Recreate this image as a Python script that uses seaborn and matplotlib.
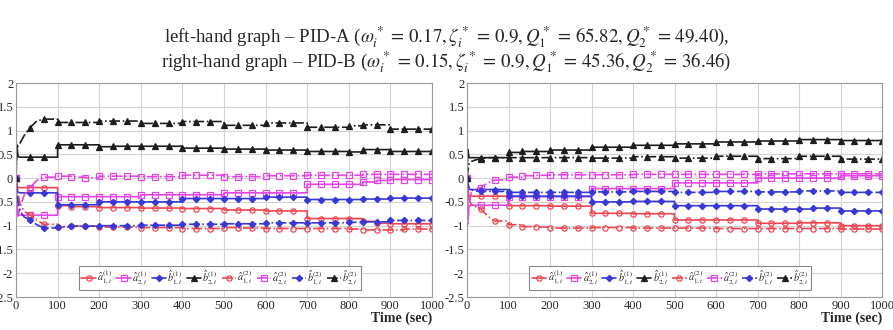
import matplotlib
matplotlib.use("Agg")
import matplotlib.pyplot as plt
import pandas as pd
import seaborn as sns

# time points: a short start-up transient, then one sample every 33.3 s
T = [0, 2, 5, 10, 20, 33.3, 50, 66.7,
     100, 133.3, 166.7, 200, 233.3, 266.7, 300, 333.3, 366.7,
     400, 433.3, 466.7, 500, 533.3, 566.7, 600, 633.3, 666.7,
     700, 733.3, 766.7, 800, 833.3, 866.7, 900, 933.3, 966.7, 1000]
N_EARLY = 8          # first points are joined directly, later ones are held (steps)
MARK_TIMES = [0, 33.3, 66.7]  # early points that carry a marker

# left-hand graph, PID-A
A_a1_1 = [0, -0.15, -0.2, -0.2, -0.2, -0.2, -0.2, -0.2,
          -0.58, -0.6, -0.6, -0.62, -0.62, -0.62, -0.63, -0.63, -0.63,
          -0.64, -0.64, -0.64, -0.67, -0.67, -0.67, -0.69, -0.69, -0.69,
          -0.85, -0.85, -0.85, -0.85, -0.91, -0.95, -0.96, -0.96, -0.96, -0.96]
A_a2_1 = [0, -0.5, -0.78, -0.78, -0.78, -0.78, -0.78, -0.78,
          -0.39, -0.39, -0.39, -0.39, -0.39, -0.39, -0.35, -0.35, -0.35,
          -0.35, -0.35, -0.35, -0.31, -0.31, -0.31, -0.31, -0.31, -0.31,
          -0.13, -0.13, -0.13, -0.13, -0.08, -0.05, -0.03, -0.03, -0.03, -0.03]
A_b1_1 = [0, -0.2, -0.3, -0.31, -0.31, -0.31, -0.31, -0.31,
          -0.56, -0.56, -0.56, -0.5, -0.5, -0.5, -0.5, -0.5, -0.5,
          -0.43, -0.43, -0.43, -0.43, -0.43, -0.43, -0.4, -0.4, -0.4,
          -0.45, -0.45, -0.45, -0.45, -0.44, -0.44, -0.42, -0.42, -0.42, -0.42]
A_b2_1 = [0, 0.7, 0.45, 0.44, 0.44, 0.44, 0.44, 0.44,
          0.7, 0.7, 0.7, 0.66, 0.67, 0.67, 0.67, 0.67, 0.67,
          0.63, 0.63, 0.63, 0.61, 0.61, 0.61, 0.59, 0.59, 0.59,
          0.56, 0.56, 0.56, 0.55, 0.6, 0.6, 0.56, 0.56, 0.56, 0.56]
A_a1_2 = [0, -0.2, -0.35, -0.55, -0.7, -0.77, -0.88, -0.97,
          -1.03, -1.01, -1.01, -1.03, -1.03, -1.03, -1.04, -1.04, -1.04,
          -1.06, -1.06, -1.06, -1.04, -1.05, -1.05, -1.06, -1.06, -1.06,
          -1.06, -1.06, -1.06, -1.07, -1.09, -1.09, -1.09, -1.07, -1.07, -1.07]
A_a2_2 = [0, -0.5, -0.8, -0.6, -0.35, -0.2, -0.05, 0.02,
          0.04, 0.02, 0.01, 0.04, 0.04, 0.04, 0.03, 0.03, 0.03,
          0.06, 0.06, 0.06, 0.03, 0.03, 0.03, 0.05, 0.05, 0.05,
          0.06, 0.06, 0.06, 0.06, 0.08, 0.08, 0.08, 0.08, 0.08, 0.08]
A_b1_2 = [0, -0.3, -0.5, -0.7, -0.82, -0.88, -0.98, -1.05,
          -1.02, -1.01, -1.01, -1.0, -1.0, -1.0, -0.99, -0.99, -0.99,
          -0.97, -0.97, -0.97, -0.96, -0.96, -0.96, -0.94, -0.94, -0.94,
          -0.94, -0.94, -0.94, -0.93, -0.92, -0.92, -0.89, -0.89, -0.89, -0.89]
A_b2_2 = [0, 0.6, 0.68, 0.74, 0.9, 1.06, 1.2, 1.24,
          1.17, 1.17, 1.17, 1.2, 1.2, 1.2, 1.15, 1.15, 1.15,
          1.19, 1.19, 1.19, 1.11, 1.11, 1.11, 1.16, 1.16, 1.16,
          1.07, 1.07, 1.07, 1.1, 1.12, 1.12, 1.03, 1.03, 1.03, 1.03]

# right-hand graph, PID-B
B_a1_1 = [0, -0.25, -0.38, -0.38, -0.38, -0.38, -0.38, -0.38,
          -0.58, -0.58, -0.58, -0.59, -0.59, -0.59, -0.74, -0.74, -0.74,
          -0.75, -0.75, -0.75, -0.88, -0.88, -0.88, -0.88, -0.88, -0.88,
          -0.95, -0.95, -0.95, -0.94, -0.94, -0.94, -1.0, -1.0, -1.0, -1.0]
B_a2_1 = [0, -0.7, -0.6, -0.57, -0.57, -0.57, -0.57, -0.57,
          -0.39, -0.39, -0.39, -0.39, -0.39, -0.39, -0.22, -0.22, -0.22,
          -0.22, -0.22, -0.22, -0.1, -0.1, -0.1, -0.1, -0.1, -0.1,
          0.0, 0.0, 0.0, 0.0, 0.0, 0.0, 0.05, 0.05, 0.05, 0.05]
B_b1_1 = [0, -0.15, -0.24, -0.24, -0.24, -0.24, -0.24, -0.24,
          -0.38, -0.38, -0.38, -0.38, -0.38, -0.38, -0.5, -0.5, -0.5,
          -0.49, -0.49, -0.49, -0.58, -0.58, -0.58, -0.58, -0.58, -0.58,
          -0.65, -0.65, -0.65, -0.65, -0.63, -0.63, -0.69, -0.69, -0.69, -0.69]
B_b2_1 = [0, 0.6, 0.43, 0.43, 0.43, 0.43, 0.43, 0.43,
          0.54, 0.56, 0.56, 0.59, 0.59, 0.59, 0.65, 0.65, 0.65,
          0.69, 0.69, 0.69, 0.72, 0.72, 0.72, 0.76, 0.76, 0.76,
          0.78, 0.78, 0.78, 0.81, 0.81, 0.81, 0.79, 0.79, 0.79, 0.79]
B_a1_2 = [0, -0.3, -0.45, -0.55, -0.6, -0.65, -0.8, -0.9,
          -0.98, -1.02, -1.03, -1.05, -1.05, -1.05, -1.04, -1.04, -1.04,
          -1.05, -1.05, -1.05, -1.05, -1.05, -1.05, -1.06, -1.06, -1.06,
          -1.06, -1.06, -1.06, -1.06, -1.06, -1.06, -1.07, -1.07, -1.07, -1.07]
B_a2_2 = [0, -1.0, -0.6, -0.3, -0.22, -0.2, -0.1, -0.04,
          0.02, 0.05, 0.06, 0.07, 0.07, 0.07, 0.07, 0.07, 0.07,
          0.08, 0.08, 0.08, 0.08, 0.08, 0.08, 0.08, 0.08, 0.08,
          0.09, 0.09, 0.09, 0.09, 0.09, 0.09, 0.09, 0.09, 0.09, 0.09]
B_b1_2 = [0, -0.1, -0.2, -0.25, -0.27, -0.28, -0.28, -0.28,
          -0.3, -0.3, -0.3, -0.3, -0.3, -0.3, -0.29, -0.29, -0.29,
          -0.28, -0.28, -0.28, -0.3, -0.3, -0.3, -0.28, -0.28, -0.28,
          -0.29, -0.29, -0.29, -0.27, -0.27, -0.27, -0.3, -0.3, -0.3, -0.3]
B_b2_2 = [0, 0.15, 0.3, 0.35, 0.38, 0.41, 0.43, 0.43,
          0.43, 0.43, 0.43, 0.43, 0.43, 0.43, 0.42, 0.42, 0.42,
          0.45, 0.45, 0.45, 0.42, 0.42, 0.42, 0.46, 0.46, 0.46,
          0.41, 0.41, 0.41, 0.46, 0.46, 0.46, 0.4, 0.4, 0.4, 0.4]

LABELS = [r"$\hat{a}_{1,t}^{(1)}$", r"$\hat{a}_{2,t}^{(1)}$",
          r"$\hat{b}_{1,t}^{(1)}$", r"$\hat{b}_{2,t}^{(1)}$",
          r"$\hat{a}_{1,t}^{(2)}$", r"$\hat{a}_{2,t}^{(2)}$",
          r"$\hat{b}_{1,t}^{(2)}$", r"$\hat{b}_{2,t}^{(2)}$"]
LEFT = [A_a1_1, A_a2_1, A_b1_1, A_b2_1, A_a1_2, A_a2_2, A_b1_2, A_b2_2]
RIGHT = [B_a1_1, B_a2_1, B_b1_1, B_b2_1, B_a1_2, B_a2_2, B_b1_2, B_b2_2]

COLORS = ["#ee4650", "#e446e4", "#3838d6", "#1e1e1e"] * 2
MARKERS = ["o", "s", "D", "^"] * 2
STYLES = ["-"] * 4 + ["-."] * 4
TITLE_1 = (r"left-hand graph – PID-A ($\omega_i^* \,=\, 0.17, \zeta_i^* \,=\, 0.9, "
           r"Q_1^* \,=\, 65.82, Q_2^* \,=\, 49.40$),")
TITLE_2 = (r"right-hand graph – PID-B ($\omega_i^* \,=\, 0.15, \zeta_i^* \,=\, 0.9, "
           r"Q_1^* \,=\, 45.36, Q_2^* \,=\, 36.46$)")

sns.set_theme(style="whitegrid")
plt.rcParams["font.family"] = ["Liberation Serif", "DejaVu Serif"]
plt.rcParams["mathtext.fontset"] = "stix"
plt.rcParams["axes.unicode_minus"] = False


def to_frame(values):
    # early transient joined point to point, afterwards each value is held until the next sample
    xs, ys, marks = [], [], []
    for k, (t, v) in enumerate(zip(T, values)):
        if k >= N_EARLY:
            xs.append(t)
            ys.append(values[k - 1])
        if k >= N_EARLY or t in MARK_TIMES:
            marks.append(len(xs))
        xs.append(t)
        ys.append(v)
    return pd.DataFrame({"t": xs, "v": ys}), marks


def draw(ax, series):
    handles = []
    for i, values in enumerate(series):
        df, marks = to_frame(values)
        hollow = MARKERS[i] in ("o", "s")
        sns.lineplot(data=df, x="t", y="v", ax=ax, estimator=None, sort=False,
                     color=COLORS[i], linestyle=STYLES[i], linewidth=1.2,
                     marker=MARKERS[i], markevery=marks,
                     markersize=3.8 if MARKERS[i] != "D" else 3.2,
                     markerfacecolor="none" if hollow else COLORS[i],
                     markeredgecolor=COLORS[i], markeredgewidth=0.9,
                     legend=False)
        handles.append(ax.lines[-1])
    ax.set_xlim(0, 1000)
    ax.set_ylim(-2.5, 2)
    ax.set_xticks(range(0, 1001, 100))
    ax.set_yticks([2, 1.5, 1, 0.5, 0, -0.5, -1, -1.5, -2, -2.5])
    ax.set_yticklabels(["2", "1.5", "1", "0.5", "0", "-0.5", "-1", "-1.5", "-2", "-2.5"])
    ax.tick_params(labelsize=9, length=0, pad=2)
    ax.grid(True, color="#d4d4d4", linewidth=0.8)
    for sp in ax.spines.values():
        sp.set_color("#9a9a9a")
        sp.set_linewidth(0.8)
    ax.set_ylabel("")
    ax.set_xlabel("Time (sec)", loc="right", fontweight="bold", fontsize=10, labelpad=0)
    leg = ax.legend(handles, LABELS, loc="lower center", bbox_to_anchor=(0.49, 0.01),
                    ncol=8, fontsize=7.4, handlelength=1.4, handletextpad=0.12,
                    columnspacing=0.35, borderpad=0.25, fancybox=False,
                    framealpha=1, edgecolor="#888888", numpoints=1)
    leg.get_frame().set_linewidth(0.8)


fig = plt.figure(figsize=(8.93, 3.30), dpi=100)
ax_l = fig.add_axes([16 / 893, 33 / 330, 416 / 893, 214 / 330])
ax_r = fig.add_axes([467 / 893, 33 / 330, 415 / 893, 214 / 330])
draw(ax_l, LEFT)
draw(ax_r, RIGHT)

fig.text(0.5, 1 - 37 / 330, TITLE_1, ha="center", va="center", fontsize=13.6)
fig.text(0.5, 1 - 62 / 330, TITLE_2, ha="center", va="center", fontsize=13.6)

fig.savefig("out.png", dpi=100)
